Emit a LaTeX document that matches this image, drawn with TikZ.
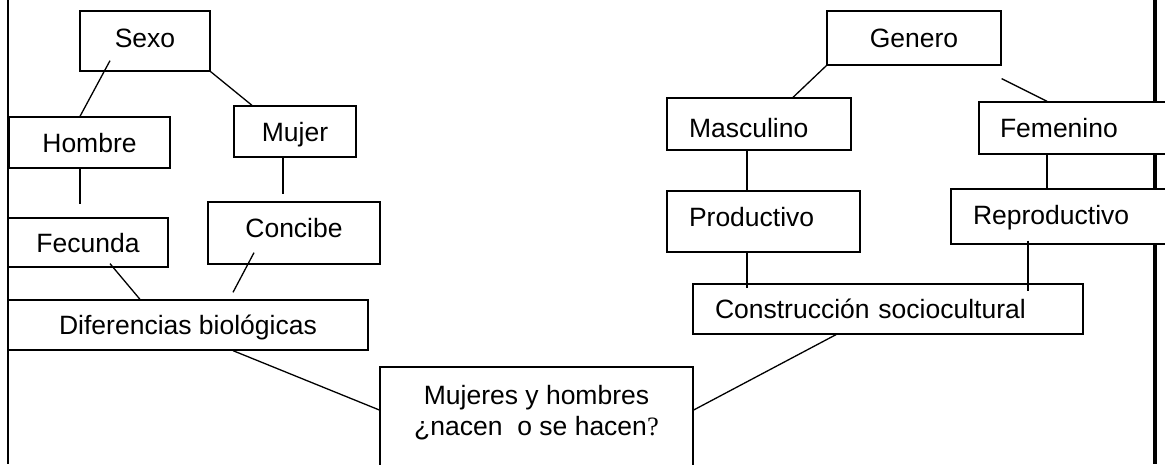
\documentclass[tikz,border=0pt]{standalone}
\usepackage{fontspec}
\setmainfont{Liberation Sans}
\newfontfamily\qmark{Liberation Serif}
\usepackage{tikz}
\usetikzlibrary{positioning}

\begin{document}
\begin{tikzpicture}[x=1pt,y=-1pt,line width=1.3pt,
  base/.style={draw,fill=white,inner sep=0pt,font=\fontsize{26.5}{31}\selectfont},
  caja/.style={base,text height=19pt,text depth=0pt},
  cajaizq/.style={caja,align=left,inner xsep=22pt}]
  \useasboundingbox (0,0) rectangle (1165,464);
  \draw (8,0) -- (8,464);
  \draw[line width=4pt] (1155,0) -- (1155,464);

  \node[caja,text depth=6pt,minimum width=130pt,minimum height=60pt] (sexo) at (145,41) {Sexo};
  \node[caja,minimum width=161pt,minimum height=51pt] (hombre) at (89.5,142.5) {Hombre};
  \node[caja,minimum width=122pt,minimum height=51pt] (mujer) at (295,131.5) {Mujer};
  \node[caja,minimum width=160pt,minimum height=49pt] (fecunda) at (88,242.5) {Fecunda};
  \node[caja,text depth=10pt,minimum width=172pt,minimum height=62pt] (concibe) at (294,233) {Concibe};
  \node[caja,minimum width=360pt,minimum height=50pt] (difer) at (188,325) {Diferencias biológicas};
  \node[base,align=center,minimum width=313pt,minimum height=128pt] (mujeres) at (536.5,431)
       {Mujeres y hombres\\¿nacen\ \ o se hacen{\qmark ?}\\\strut};

  \node[caja,minimum width=174pt,minimum height=54pt] (genero) at (914,38) {Genero};
  \node[cajaizq,text height=27pt,text width=140pt,minimum height=52pt] (masc) at (759,124) {Masculino};
  \node[cajaizq,inner xsep=21pt,text width=154pt,minimum height=52pt] (femen) at (1077,128) {Femenino};
  \node[cajaizq,text depth=10pt,text width=149pt,minimum height=61pt] (produc) at (763.5,221.5) {Productivo};
  \node[cajaizq,text depth=3pt,text width=180pt,minimum height=55pt] (reprod) at (1063,216.5) {Reproductivo};
  \node[cajaizq,text width=346pt,minimum height=50pt] (constr) at (888,309) {Construcción sociocultural};

  \draw ([xshift=-35pt,yshift=11pt]sexo.south) -- ([xshift=-9.5pt]hombre.north);
  \draw (sexo.south east) -- ([xshift=-43pt]mujer.north);
  \draw ([xshift=-9.5pt]hombre.south) -- ([xshift=-8pt,yshift=13pt]fecunda.north);
  \draw ([xshift=-12pt]mujer.south) -- ([xshift=-11pt,yshift=7pt]concibe.north);
  \draw ([xshift=22pt,yshift=4pt]fecunda.south) -- ([xshift=-48pt]difer.north);
  \draw ([xshift=-40pt,yshift=12pt]concibe.south) -- ([xshift=45pt,yshift=7pt]difer.north);
  \draw ([xshift=45pt]difer.south) -- ([yshift=21pt]mujeres.west);
  \draw ([xshift=-52pt]constr.south) -- ([yshift=21pt]mujeres.east);

  \draw (genero.south west) -- ([xshift=34pt]masc.north);
  \draw ([yshift=-13pt]genero.south east) -- ([xshift=-30pt]femen.north);
  \draw ([xshift=-12pt]masc.south) -- ([xshift=-16.5pt]produc.north);
  \draw ([xshift=-30pt]femen.south) -- ([xshift=-16pt]reprod.north);
  \draw ([xshift=-16.5pt]produc.south) -- ([xshift=-141pt,yshift=-5pt]constr.north);
  \draw ([xshift=-35pt,yshift=4pt]reprod.south) -- ([xshift=140pt,yshift=-8pt]constr.north);
\end{tikzpicture}
\end{document}
